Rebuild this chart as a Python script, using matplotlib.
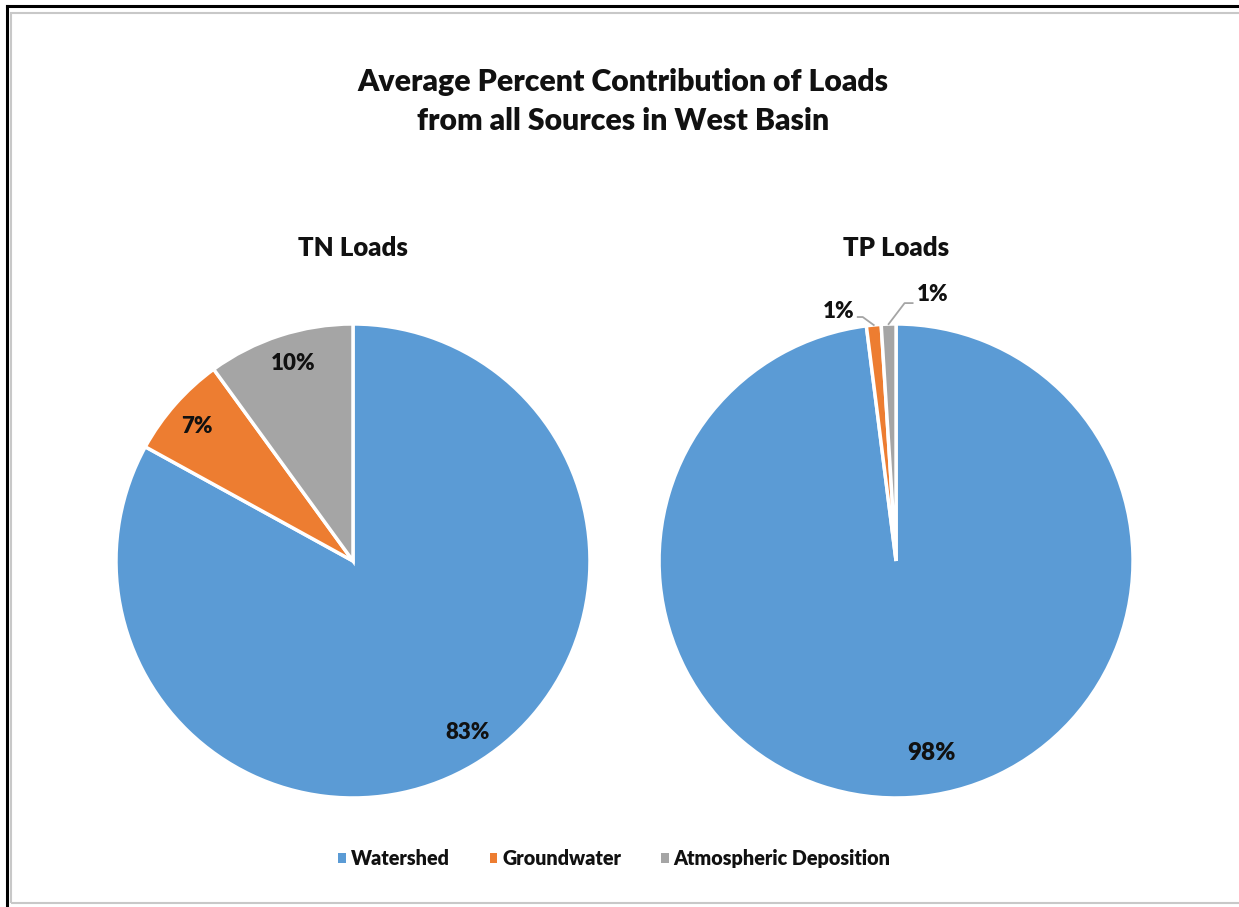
import numpy as np
import matplotlib.pyplot as plt
from matplotlib.lines import Line2D
from matplotlib.patches import Rectangle

plt.rcParams['font.family'] = ['Lato', 'DejaVu Sans']
plt.rcParams['font.weight'] = 800
TXT = '#111111'

sources = ['Watershed', 'Groundwater', 'Atmospheric Deposition']
colors = ['#5B9BD5', '#ED7D31', '#A5A5A5']
tn_pct = [83, 7, 10]
tp_pct = [98, 1, 1]

fig = plt.figure(figsize=(12.39, 9.07), dpi=100)
R_PX = 237.0  # pie radius in pixels, used to turn pixel offsets into data units

# outer frame: dark line top/left, light grey chart border inside
fig.add_artist(Line2D([0.0056, 1.0], [0.9935, 0.9935], color='black', lw=2.2))
fig.add_artist(Line2D([0.0056, 0.0056], [0.0, 0.9935], color='black', lw=2.2))
fig.add_artist(Rectangle((0.0085, 0.0045), 1.2, 0.9815, fill=False,
                         edgecolor='#C8C8C8', lw=1.5))

fig.text(0.503, 0.888, 'Average Percent Contribution of Loads\nfrom all Sources in West Basin',
         ha='center', va='center', fontsize=21.7, fontweight=800,
         linespacing=1.5, color=TXT)


def draw_pie(rect, values, title):
    ax = fig.add_axes(rect)
    wedges, _ = ax.pie(values, colors=colors, startangle=90, counterclock=False,
                       radius=1.0, wedgeprops=dict(edgecolor='white', linewidth=2.5))
    ax.set_xlim(-1, 1)
    ax.set_ylim(-1, 1)
    ax.set_aspect('equal')
    ax.axis('off')
    fig.text(rect[0] + rect[2] / 2, 0.7265, title, ha='center', va='center',
             fontsize=18.5, fontweight=800, color=TXT)
    return ax, wedges


def mid_angle(w):
    return np.deg2rad((w.theta1 + w.theta2) / 2)


# TN loads, labels inside the slices (small nudges in pixels)
ax1, w1 = draw_pie([0.0936, 0.1202, 0.3826, 0.5226], tn_pct, 'TN Loads')
nudges = [(9, 7), (-1, -3), (4, 0)]
for w, v, (nx, ny) in zip(w1, tn_pct, nudges):
    a = mid_angle(w)
    ax1.text(0.875 * np.cos(a) + nx / R_PX, 0.875 * np.sin(a) + ny / R_PX, f'{v}%',
             ha='center', va='center', fontsize=16, fontweight=800, color=TXT)

# TP loads
ax2, w2 = draw_pie([0.5319, 0.1202, 0.3826, 0.5226], tp_pct, 'TP Loads')
a = mid_angle(w2[0])
ax2.text(0.8 * np.cos(a) + 0.1, 0.8 * np.sin(a) - 0.01, f'{tp_pct[0]}%', ha='center',
         va='center', fontsize=17.5, fontweight=800, color=TXT)

# small slices labelled outside with elbow leader lines (offsets in pixels)
leaders = [(-11, 8, -5, -3, 6), (16, 21, 8, 4, 9)]
for w, v, (dx, dy, hx, gap, ty) in zip(w2[1:], tp_pct[1:], leaders):
    a = mid_angle(w)
    x0, y0 = np.cos(a), np.sin(a)
    x1, y1 = x0 + dx / R_PX, y0 + dy / R_PX
    x2 = x1 + hx / R_PX
    ax2.plot([x0, x1, x2], [y0, y1, y1], color='#A5A5A5', lw=1.3, clip_on=False)
    ax2.text(x2 + gap / R_PX, y1 + ty / R_PX, f'{v}%', ha='left' if hx > 0 else 'right',
             va='center', fontsize=16, fontweight=800, color=TXT)

handles = [Rectangle((0, 0), 1, 1, facecolor=c) for c in colors]
fig.legend(handles, sources, loc='center', bbox_to_anchor=(0.496, 0.053), ncol=3,
           frameon=False, handlelength=0.4, handleheight=0.4, handletextpad=0.25,
           columnspacing=2.0, prop={'weight': 800, 'size': 14.2}, labelcolor=TXT)

fig.savefig('out.png', dpi=100)
